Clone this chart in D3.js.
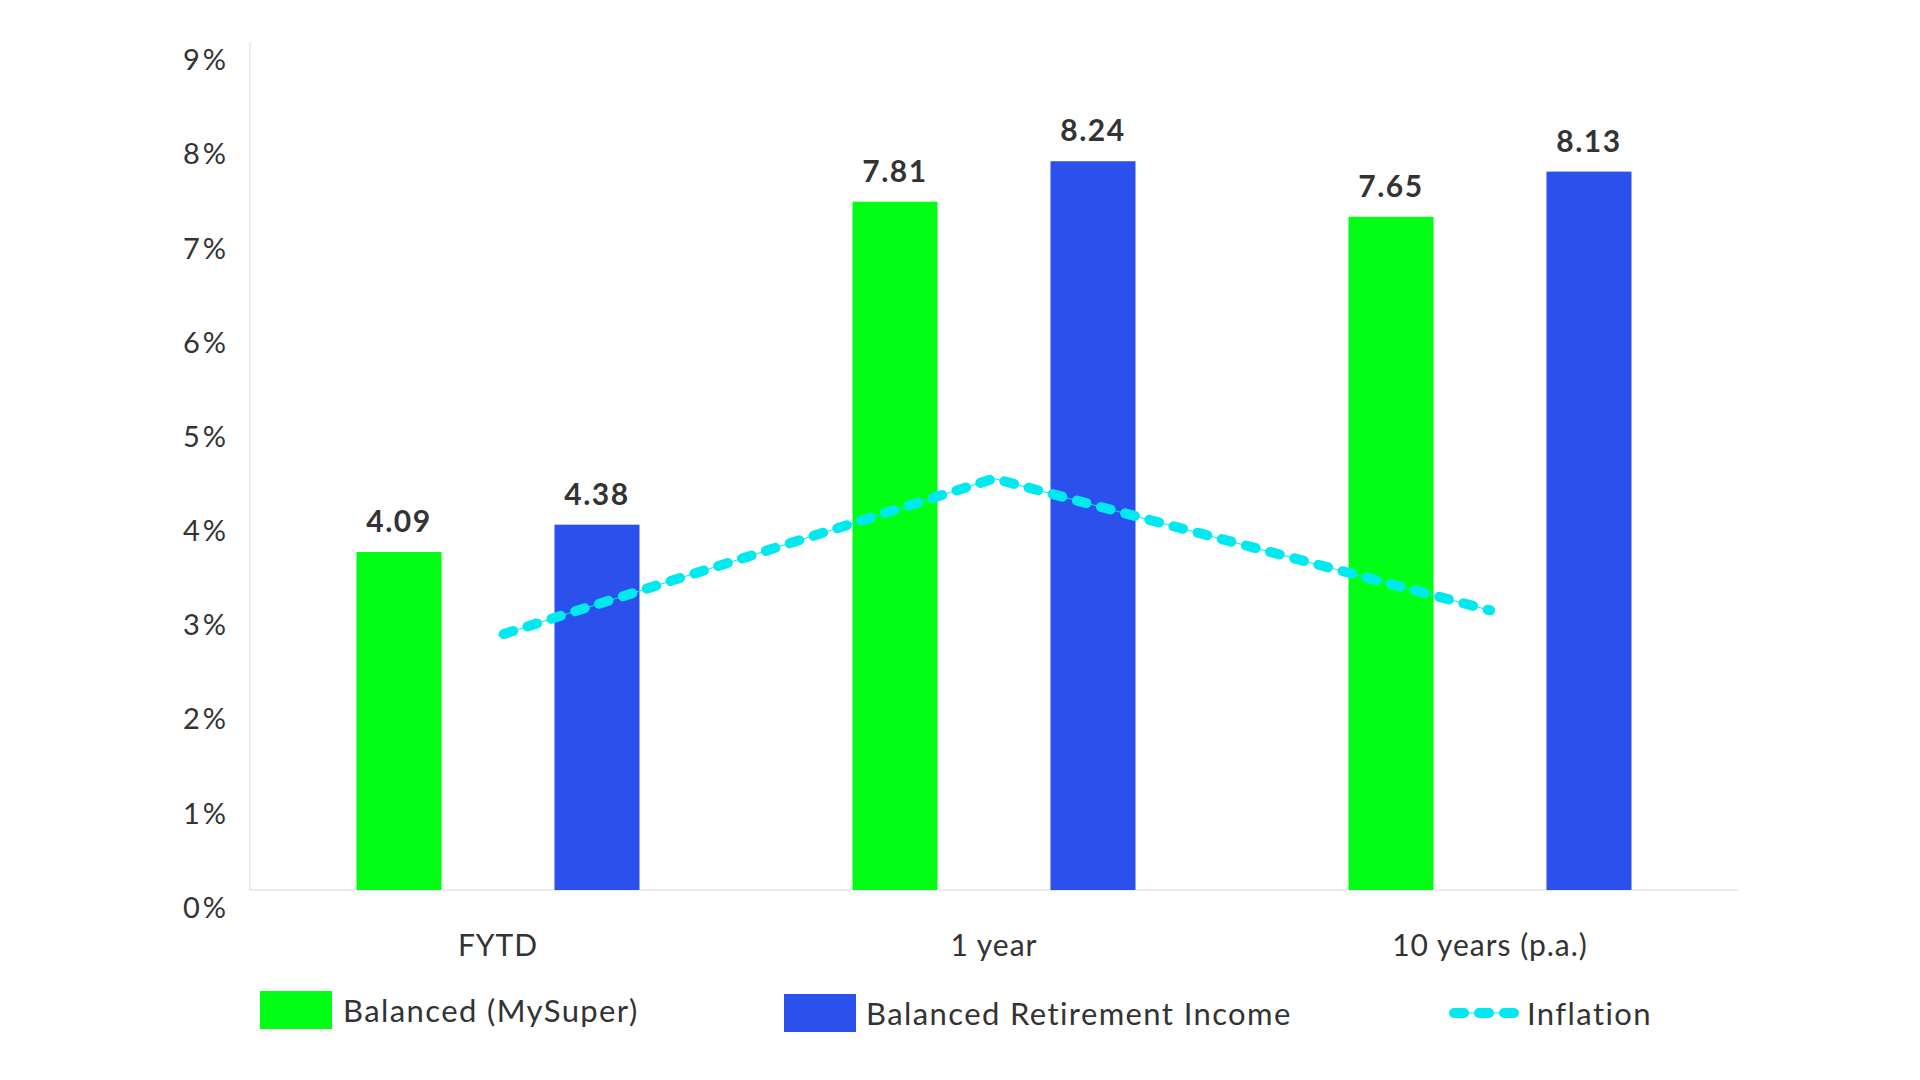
<!DOCTYPE html>
<html>
<head>
<meta charset="utf-8">
<script src="https://cdn.jsdelivr.net/npm/d3@7"></script>
<style>
    body { margin: 0; background: #ffffff; }
    #returns-chart text { font-family: "Lato", "Noto Sans", sans-serif; fill: #333333; }
    .axis-line { stroke: #e6e6e6; stroke-width: 1.5; }
    .value-label { font-weight: 700; font-size: 30px; letter-spacing: 1.5px; }
    .tick-label { font-size: 29px; letter-spacing: 3px; }
    .cat-label { font-size: 30px; letter-spacing: 1px; }
    .legend-text { font-size: 31px; letter-spacing: 1.4px; }
</style>
</head>
<body>
<div id="returns-chart"></div>
<script>
// Chart data
const categories = ["FYTD", "1 year", "10 years (p.a.)"];
const balancedMySuper = [4.09, 7.81, 7.65];
const balancedRetirement = [4.38, 8.24, 8.13];
const inflation = [3.2, 4.87, 3.47];
const yTickValues = [0, 1, 2, 3, 4, 5, 6, 7, 8, 9];
const seriesNames = ["Balanced (MySuper)", "Balanced Retirement Income", "Inflation"];

const GREEN = "#00ff14";
const BLUE = "#2b50ec";
const CYAN = "#00e9ef";

/**
 * Constructor for the returns chart
 */
function ReturnsChart(){
    let self = this;
    self.init();
};

/**
 * Sets up svg, scales and axes
 */
ReturnsChart.prototype.init = function(){
    let self = this;
    self.width = 1920;
    self.height = 1080;

    self.svg = d3.select("#returns-chart").append("svg")
        .attr("width", self.width)
        .attr("height", self.height);

    // plot area edges
    self.left = 250;
    self.right = 1738;
    self.bottom = 890;

    self.x = d3.scaleBand()
        .domain(categories)
        .range([self.left, self.right]);

    self.xSub = d3.scaleBand()
        .domain(["mysuper", "retirement"])
        .range([0, self.x.bandwidth()])
        .paddingInner(0.5707)
        .paddingOuter(0.538);

    self.y = d3.scaleLinear()
        .domain([0.5, 9.5])
        .range([self.bottom, 42.6]);
};

/**
 * Draws axes, bars, inflation line and legend
 */
ReturnsChart.prototype.draw = function(){
    let self = this;
    let x = self.x, xSub = self.xSub, y = self.y;

    // axis lines
    self.svg.append("line")
        .attr("class", "axis-line")
        .attr("x1", self.left).attr("x2", self.left)
        .attr("y1", y(9.5)).attr("y2", self.bottom);
    self.svg.append("line")
        .attr("class", "axis-line")
        .attr("x1", self.left).attr("x2", self.right)
        .attr("y1", self.bottom).attr("y2", self.bottom);

    // y axis tick labels (sit a bit above their value)
    let yAxis = self.svg.append("g")
        .attr("transform", "translate(" + self.left + ",0)")
        .call(d3.axisLeft(y).tickValues(yTickValues).tickSize(0).tickPadding(24)
            .tickFormat(d => d + "%"));
    yAxis.select(".domain").remove();
    yAxis.selectAll("text")
        .attr("class", "tick-label")
        .attr("y", -30)
        .attr("dx", 3)
        .attr("dy", "0.35em")
        .attr("font-family", null)
        .attr("font-size", null);

    // x axis category labels
    let xAxis = self.svg.append("g")
        .attr("transform", "translate(0," + 945 + ")")
        .call(d3.axisBottom(x).tickSize(0).tickPadding(0));
    xAxis.select(".domain").remove();
    xAxis.selectAll("text")
        .attr("class", "cat-label")
        .attr("y", 0)
        .attr("dy", "0.35em")
        .attr("font-family", null)
        .attr("font-size", null);

    // bars
    let rows = categories.map((c, i) => [
        {cat: c, key: "mysuper", value: balancedMySuper[i], color: GREEN},
        {cat: c, key: "retirement", value: balancedRetirement[i], color: BLUE}
    ]).flat();

    self.svg.selectAll(".bar")
        .data(rows)
        .enter()
        .append("rect")
        .attr("class", "bar")
        .attr("x", d => x(d.cat) + xSub(d.key))
        .attr("y", d => y(d.value))
        .attr("width", xSub.bandwidth())
        .attr("height", d => self.bottom - y(d.value))
        .style("fill", d => d.color);

    self.svg.selectAll(".value-label")
        .data(rows)
        .enter()
        .append("text")
        .attr("class", "value-label")
        .attr("x", d => x(d.cat) + xSub(d.key) + xSub.bandwidth()/2)
        .attr("y", d => y(d.value) - 20)
        .attr("text-anchor", "middle")
        .text(d => d.value.toFixed(2));

    // inflation line: thin solid line under a thick dashed one
    let line = d3.line()
        .x((d, i) => x(categories[i]) + x.bandwidth()/2)
        .y(d => y(d));

    self.svg.append("path")
        .datum(inflation)
        .attr("d", line)
        .style("fill", "none")
        .style("stroke", CYAN)
        .style("stroke-width", 1);
    self.svg.append("path")
        .datum(inflation)
        .attr("d", line)
        .style("fill", "none")
        .style("stroke", CYAN)
        .style("stroke-width", 10)
        .style("stroke-linecap", "round")
        .style("stroke-linejoin", "round")
        .style("stroke-dasharray", "10,15")
        .style("stroke-dashoffset", -6);

    // legend
    let legend = self.svg.append("g").attr("class", "legend");

    legend.append("rect")
        .attr("x", 260).attr("y", 991)
        .attr("width", 72).attr("height", 38)
        .style("fill", GREEN);
    legend.append("text")
        .attr("class", "legend-text")
        .attr("x", 343).attr("y", 1011)
        .attr("dy", "0.35em")
        .text(seriesNames[0]);

    legend.append("rect")
        .attr("x", 784).attr("y", 994)
        .attr("width", 72).attr("height", 38)
        .style("fill", BLUE);
    legend.append("text")
        .attr("class", "legend-text")
        .attr("x", 866).attr("y", 1014)
        .attr("dy", "0.35em")
        .text(seriesNames[1]);

    legend.append("line")
        .attr("x1", 1449).attr("x2", 1518)
        .attr("y1", 1013).attr("y2", 1013)
        .style("stroke", CYAN)
        .style("stroke-width", 1);
    legend.append("line")
        .attr("x1", 1454).attr("x2", 1514)
        .attr("y1", 1013).attr("y2", 1013)
        .style("stroke", CYAN)
        .style("stroke-width", 10)
        .style("stroke-linecap", "round")
        .style("stroke-dasharray", "10,15");
    legend.append("text")
        .attr("class", "legend-text")
        .attr("x", 1527).attr("y", 1014)
        .attr("dy", "0.35em")
        .text(seriesNames[2]);
};

let chart = new ReturnsChart();
chart.draw();
</script>
</body>
</html>
